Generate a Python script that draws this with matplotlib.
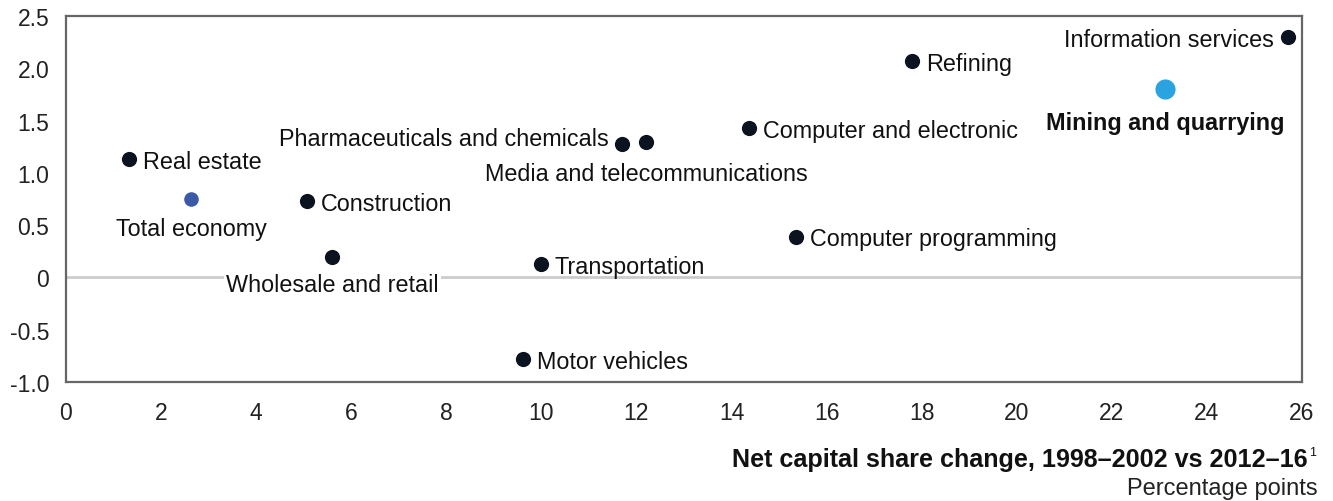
import matplotlib.pyplot as plt

plt.rcParams['font.family'] = ['Liberation Sans', 'DejaVu Sans']

# Net capital share change (x) vs other metric (y), by sector
sectors = ['Information services', 'Refining', 'Mining and quarrying',
           'Computer and electronic', 'Pharmaceuticals and chemicals',
           'Media and telecommunications', 'Real estate', 'Total economy',
           'Construction', 'Wholesale and retail', 'Computer programming',
           'Transportation', 'Motor vehicles']
x_vals = [25.70, 17.80, 23.12, 14.37, 11.70, 12.20, 1.33, 2.63,
          5.07, 5.60, 15.36, 9.99, 9.61]
y_vals = [2.30, 2.07, 1.80, 1.43, 1.28, 1.30, 1.13, 0.75,
          0.73, 0.20, 0.39, 0.125, -0.78]

x_ticks = list(range(0, 27, 2))
y_ticks = [-1.0, -0.5, 0, 0.5, 1.0, 1.5, 2.0, 2.5]
y_tick_labels = ['-1.0', '-0.5', '0', '0.5', '1.0', '1.5', '2.0', '2.5']

dark = '#0b1220'
colors = {'Total economy': '#3a5aa8', 'Mining and quarrying': '#2aa3e0'}
sizes = {'Mining and quarrying': 210, 'Total economy': 110}

# label placement: (dx, dy) in points, ha
placement = {
    'Information services': (-10, -1.5, 'right'),
    'Pharmaceuticals and chemicals': (-10, 4, 'right'),
    'Media and telecommunications': (0, -23, 'center'),
    'Total economy': (0, -21, 'center'),
    'Wholesale and retail': (0, -20, 'center'),
    'Mining and quarrying': (0, -24, 'center'),
}

fig = plt.figure(figsize=(13.33, 5.02), dpi=100)
ax = fig.add_axes([0.0495, 0.237, 0.9272, 0.729])

ax.axhline(0, color='#cccccc', lw=2, zorder=1)

for name, x, y in zip(sectors, x_vals, y_vals):
    ax.scatter(x, y, s=sizes.get(name, 120), color=colors.get(name, dark),
               zorder=4, linewidths=0)
    dx, dy, ha = placement.get(name, (10, -1.5, 'left'))
    bold = name == 'Mining and quarrying'
    box = None
    if name == 'Wholesale and retail':
        box = dict(boxstyle='square,pad=0.1', fc='white', ec='none')
    ax.annotate(name, (x, y), xytext=(dx, dy), textcoords='offset points',
                ha=ha, va='center', fontsize=16.8, color='#111111',
                fontweight='bold' if bold else 'normal', zorder=3, bbox=box)

ax.set_xlim(0, 26)
ax.set_ylim(-1.0, 2.5)
ax.set_xticks(x_ticks)
ax.set_yticks(y_ticks)
ax.set_yticklabels(y_tick_labels)
ax.tick_params(length=0, labelsize=16.5, labelcolor='#222222', pad=12)
ax.tick_params(axis='x', pad=14)
for sp in ax.spines.values():
    sp.set_color('#666666')
    sp.set_linewidth(1.6)

fig.text(1308 / 1333, 1 - 460 / 502, 'Net capital share change, 1998\u20132002 vs 2012\u201316',
         ha='right', va='center', fontsize=18.1, fontweight='bold', color='#111111')
fig.text(1309 / 1333, 1 - 453 / 502, '1', ha='left', va='center', fontsize=9,
         color='#111111')
fig.text(1318 / 1333, 1 - 489 / 502, 'Percentage points', ha='right', va='center',
         fontsize=17, color='#222222')

fig.savefig('out.png', dpi=100)
